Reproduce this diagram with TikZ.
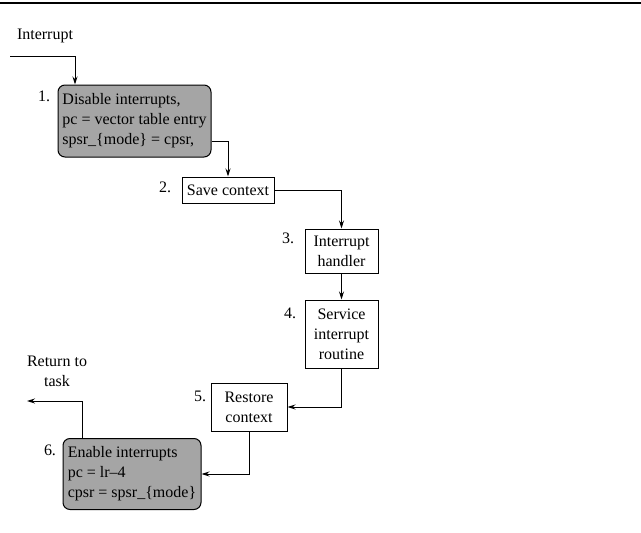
\documentclass[tikz,border=0pt]{standalone}
\usepackage{fontspec}
\setmainfont{Liberation Serif}
\usetikzlibrary{arrows.meta}
\definecolor{boxgray}{RGB}{165,165,165}
\begin{document}
\begin{tikzpicture}[x=1pt,y=-1pt,>={Stealth[length=8pt,width=5pt]},
    font=\fontsize{16}{20}\selectfont]
  \tikzstyle{graybox}=[draw,line width=1pt,rounded corners=7pt,fill=boxgray,align=left,inner xsep=3pt]
  \tikzstyle{plainbox}=[draw,line width=1pt,align=center]
  \tikzstyle{edge}=[draw,line width=0.9pt,->]
  \useasboundingbox (0,0) rectangle (641,533);
  \draw[line width=1.5pt] (0,3) -- (641,3);
  % steps
  \node [graybox,minimum width=153pt,minimum height=72pt] (b1) at (134.5,121)
    {Disable interrupts,\\pc = vector table entry\\spsr\_\{mode\} = cpsr,};
  \node [plainbox,minimum width=92pt,minimum height=26pt] (b2) at (228,190) {Save context};
  \node [plainbox,minimum width=73pt,minimum height=44pt] (b3) at (341.5,251) {Interrupt\\handler};
  \node [plainbox,minimum width=73pt,minimum height=68pt] (b4) at (341.5,334) {Service\\interrupt\\routine};
  \node [plainbox,minimum width=76pt,minimum height=48pt] (b5) at (249,407) {Restore\\context};
  \node [graybox,minimum width=138pt,minimum height=71pt] (b6) at (132,474)
    {Enable interrupts\\pc = lr--4\\cpsr = spsr\_\{mode\}};
  % numbers
  \node (n1) at (44,96) {1.};
  \node (n2) at (165,187) {2.};
  \node (n3) at (288,238) {3.};
  \node (n4) at (290,313) {4.};
  \node (n5) at (200,396) {5.};
  \node (n6) at (50,450) {6.};
  % in and out
  \node (irq) at (45,36) {Interrupt};
  \coordinate (irqin) at (10,56);
  \node [align=center] (ret) at (57,371) {Return to\\task};
  \coordinate (retout) at (27,401);
  % connectors
  \path[edge] (irqin) -| ([xshift=-59.5pt]b1.north);
  \path[edge] ([yshift=-20pt]b1.east) -| (b2.north);
  \path[edge] (b2.east) -| (b3.north);
  \path[edge] (b3.south) -- (b4.north);
  \path[edge] (b4.south) |- (b5.east);
  \path[edge] (b5.south) |- (b6.east);
  \path[edge] ([xshift=-50pt]b6.north) |- (retout);
\end{tikzpicture}
\end{document}
